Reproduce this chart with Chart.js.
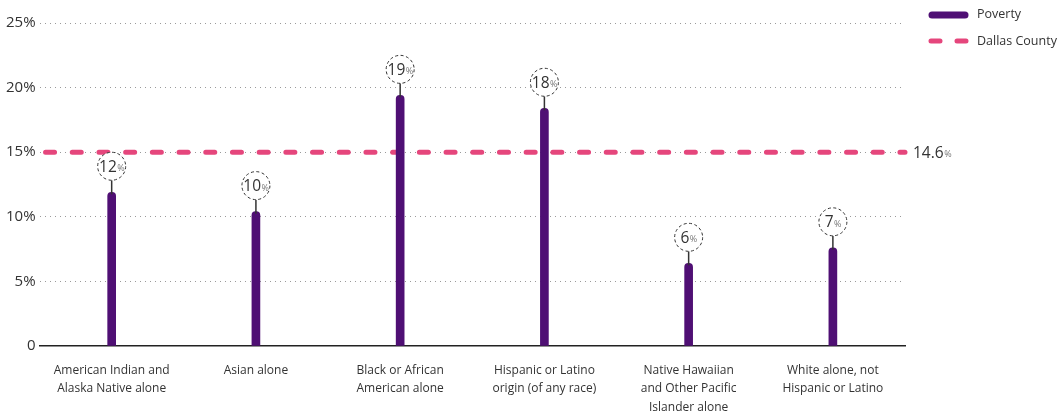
<!DOCTYPE html>
<html>
<head>
<meta charset="utf-8">
<script src="https://cdn.jsdelivr.net/npm/chart.js@4"></script>
<style>
  html, body { margin: 0; padding: 0; background: #fff; }
  #chartWrap { width: 1061px; height: 415px; }
</style>
</head>
<body>
<div id="chartWrap"><canvas id="povertyChart" width="1061" height="415"></canvas></div>
<script>
// categories (x axis, wrapped the way the reference wraps them)
const categories = [
    ['American Indian and', 'Alaska Native alone'],
    ['Asian alone'],
    ['Black or African', 'American alone'],
    ['Hispanic or Latino', 'origin (of any race)'],
    ['Native Hawaiian', 'and Other Pacific', 'Islander alone'],
    ['White alone, not', 'Hispanic or Latino']
];
// poverty rate per group (%)
const povertyValues = [11.9, 10.4, 19.4, 18.4, 6.4, 7.6];
// the rounded numbers printed in the circles
const povertyLabels = ['12', '10', '19', '18', '6', '7'];
// county reference line (drawn on the 15% grid line in the source) and its label
const countyValue = 15;
const countyLabel = '14.6';
// y ticks
const yTicks = [0, 5, 10, 15, 20, 25];

const FONT = "'Open Sans', 'Noto Sans', sans-serif";
const PURPLE = '#4f0f74';
const PINK = '#e5467c';
const TEXT = '#333333';

// draws the dashed county line, the circled value labels and the legend
const extrasPlugin = {
    id: 'extras',
    beforeDatasetsDraw(chart) {
        const { ctx, chartArea, scales } = chart;
        const y = scales.y.getPixelForValue(countyValue);
        ctx.save();
        ctx.strokeStyle = PINK;
        ctx.lineWidth = 5;
        ctx.lineCap = 'round';
        ctx.setLineDash([9, 17.7]);
        ctx.beginPath();
        ctx.moveTo(chartArea.left + 6, y);
        ctx.lineTo(chartArea.right, y);
        ctx.stroke();
        ctx.restore();

        // label at the end of the line
        drawPct(ctx, countyLabel, chartArea.right + 8, y, 'left');
    },
    afterDatasetsDraw(chart) {
        const { ctx } = chart;
        const meta = chart.getDatasetMeta(0);
        meta.data.forEach((bar, i) => {
            const cx = bar.x;
            const cy = bar.y - 26;
            ctx.save();
            // connector
            ctx.strokeStyle = TEXT;
            ctx.lineWidth = 1.5;
            ctx.beginPath();
            ctx.moveTo(cx, cy + 14);
            ctx.lineTo(cx, bar.y + 2);
            ctx.stroke();
            // dashed circle
            ctx.lineWidth = 1;
            ctx.setLineDash([3, 2.5]);
            ctx.fillStyle = '#fff';
            ctx.beginPath();
            ctx.arc(cx, cy, 14, 0, Math.PI * 2);
            ctx.fill();
            ctx.stroke();
            ctx.restore();
            drawPct(ctx, povertyLabels[i], cx, cy, 'center');
        });

        // legend
        const lx = 929, tx = 977;
        ctx.save();
        ctx.lineCap = 'round';
        ctx.strokeStyle = PURPLE;
        ctx.lineWidth = 7;
        ctx.beginPath();
        ctx.moveTo(lx + 3, 15);
        ctx.lineTo(lx + 36, 15);
        ctx.stroke();
        ctx.strokeStyle = PINK;
        ctx.lineWidth = 5;
        ctx.beginPath();
        ctx.moveTo(lx + 2, 41);
        ctx.lineTo(lx + 11, 41);
        ctx.moveTo(lx + 28, 41);
        ctx.lineTo(lx + 37, 41);
        ctx.stroke();
        ctx.fillStyle = TEXT;
        ctx.font = '12.5px ' + FONT;
        ctx.textAlign = 'left';
        ctx.textBaseline = 'middle';
        ctx.fillText('Poverty', tx, 14);
        ctx.fillText('Dallas County', tx, 41);
        ctx.restore();
    }
};

// number in dark text followed by a small grey "%"
function drawPct(ctx, num, x, y, align) {
    ctx.save();
    ctx.textBaseline = 'alphabetic';
    ctx.font = '15.5px ' + FONT;
    const w1 = ctx.measureText(num).width;
    ctx.font = '9px ' + FONT;
    const w2 = ctx.measureText('%').width;
    let start = align === 'center' ? x - (w1 + w2) / 2 : x;
    ctx.textAlign = 'left';
    ctx.fillStyle = TEXT;
    ctx.font = '15.5px ' + FONT;
    ctx.fillText(num, start, y + 5.5);
    ctx.fillStyle = '#777';
    ctx.font = '9px ' + FONT;
    ctx.fillText('%', start + w1 + 0.5, y + 5);
    ctx.restore();
}

new Chart(document.getElementById('povertyChart'), {
    type: 'bar',
    data: {
        labels: categories,
        datasets: [{
            label: 'Poverty',
            data: povertyValues,
            backgroundColor: PURPLE,
            barThickness: 8,
            borderRadius: { topLeft: 4, topRight: 4 },
            borderSkipped: 'start'
        }]
    },
    options: {
        responsive: false,
        animation: false,
        devicePixelRatio: 1,
        layout: { padding: { left: 2, right: 156, top: 23, bottom: 0 } },
        plugins: {
            legend: { display: false },
            tooltip: { enabled: false }
        },
        scales: {
            x: {
                grid: { display: false },
                border: { display: true, color: '#222', width: 1.5 },
                ticks: {
                    color: TEXT,
                    font: { family: FONT, size: 12, lineHeight: 1.55 },
                    padding: 7,
                    maxRotation: 0,
                    autoSkip: false
                },
                afterFit(axis) {
                    axis.height = 69;
                }
            },
            y: {
                min: 0,
                max: 25,
                afterBuildTicks(axis) {
                    axis.ticks = yTicks.map(v => ({ value: v }));
                },
                grid: {
                    color: c => c.tick && c.tick.value === 0 ? 'rgba(0,0,0,0)' : '#9a9a9a',
                    lineWidth: 1,
                    drawTicks: false
                },
                border: { display: false, dash: [1, 4] },
                ticks: {
                    color: TEXT,
                    padding: 4,
                    font: { family: FONT, size: 15 },
                    callback: v => v === 0 ? '0' : v + '%'
                }
            }
        }
    },
    plugins: [extrasPlugin]
});
</script>
</body>
</html>
